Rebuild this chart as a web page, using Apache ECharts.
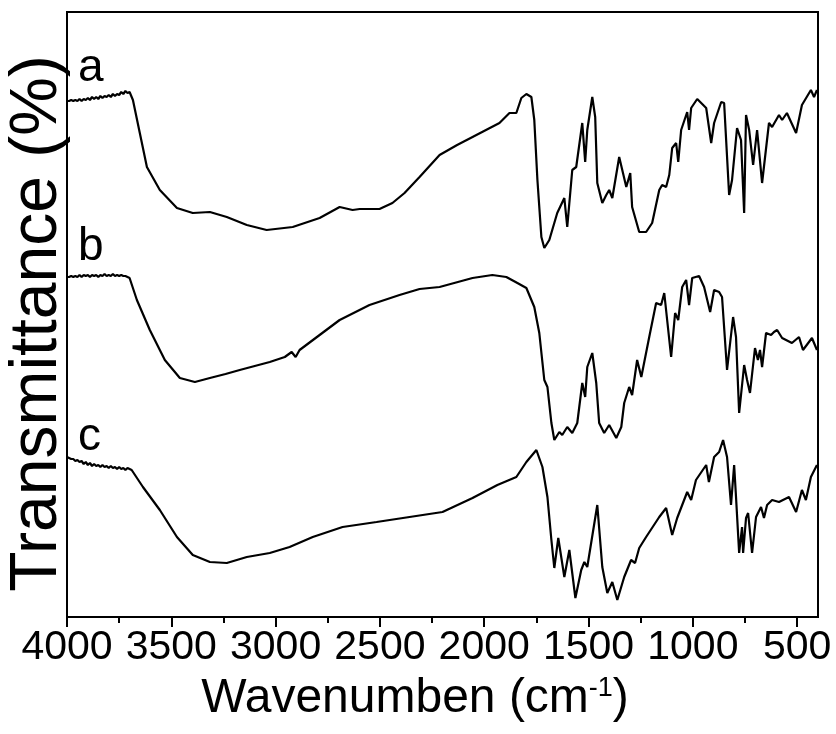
<!DOCTYPE html>
<html>
<head>
<meta charset="utf-8">
<script src="https://cdn.jsdelivr.net/npm/echarts@6/dist/echarts.min.js"></script>
<style>
  html, body { margin: 0; padding: 0; background: #fff; }
  #chart { width: 836px; height: 734px; }
</style>
</head>
<body>
<div id="chart"></div>
<script>
// wavenumber (cm-1) and transmittance (offset, a.u.) for the three spectra
const waveA = [4000,3990,3980,3970,3960,3950,3940,3930,3920,3910,3900,3890,3880,3870,3860,3850,3840,3830,3820,3810,3800,3790,3780,3770,3760,3750,3740,3730,3720,3710,3700,3684,3651,3617,3555,3473,3397,3315,3234,3138,3043,2918,2789,2693,2631,2597,2502,2440,2382,2310,2214,2130,2056,1927,1879,1846,1822,1798,1774,1760,1745,1726,1712,1688,1650,1616,1602,1578,1559,1530,1516,1506,1482,1468,1458,1434,1415,1401,1386,1353,1319,1300,1291,1257,1224,1195,1161,1147,1128,1113,1099,1080,1070,1056,1027,1018,1008,979,936,912,898,864,850,826,812,788,769,754,745,730,711,692,668,635,620,587,572,549,505,477,434,419,405]
const tA    = [516,516,517,516,517,516,518,516,518,517,519,517,520,518,520,518,521,519,521,520,522,520,523,521,523,522,525,523,526,524,525,517,484,450,427,409,404,405,400,392,387,390,399,410,407,408,408,414,424,440,462,472,480,494,504,504,519,523,520,497,437,380,369,377,404,419,390,447,450,494,455,487,520,500,434,414,422,427,419,460,430,444,410,385,385,394,427,432,430,442,469,474,455,487,505,487,509,518,509,474,494,515,514,422,437,489,477,404,502,487,452,487,434,494,490,502,497,504,484,512,527,520,527]

const waveB = [4000,3990,3980,3970,3960,3950,3940,3930,3920,3910,3900,3890,3880,3870,3860,3850,3840,3830,3820,3810,3800,3790,3780,3770,3760,3750,3740,3730,3720,3710,3700,3665,3603,3531,3459,3387,3315,3240,3172,3100,3028,2956,2923,2904,2885,2789,2693,2550,2406,2310,2214,2056,1961,1894,1841,1798,1760,1736,1712,1697,1678,1664,1640,1626,1602,1578,1554,1530,1516,1506,1482,1463,1449,1425,1401,1367,1343,1329,1305,1291,1267,1247,1209,1176,1152,1137,1104,1085,1070,1051,1032,1018,1003,970,946,917,898,874,860,836,807,793,778,754,740,726,702,688,678,668,649,625,611,596,572,525,491,472,429,405]
const tB    = [340,340,341,340,341,340,342,340,342,341,342,340,342,341,342,340,342,341,343,341,342,341,343,341,342,341,342,341,341,340,339,317,287,257,239,235,239,243,247,251,255,260,265,260,267,282,297,312,322,328,330,339,342,340,334,329,310,284,237,230,194,177,185,182,190,184,194,234,220,250,264,234,194,184,192,179,190,214,230,222,257,240,280,314,312,324,260,304,297,330,337,312,339,341,330,305,327,325,320,247,300,280,204,252,237,224,269,257,267,250,284,282,285,287,279,274,280,267,279,267]

const waveC = [4000,3990,3980,3970,3960,3950,3940,3930,3920,3910,3900,3890,3880,3870,3860,3850,3840,3830,3820,3810,3800,3790,3780,3770,3760,3750,3740,3730,3720,3710,3700,3690,3684,3636,3555,3473,3397,3315,3234,3138,3028,2933,2822,2679,2516,2358,2200,2056,1937,1846,1798,1750,1721,1697,1678,1664,1645,1616,1592,1563,1535,1520,1506,1458,1434,1410,1386,1362,1329,1296,1277,1257,1224,1161,1128,1099,1075,1027,1008,985,936,923,898,874,855,836,817,802,793,778,764,759,745,735,716,697,673,659,644,620,587,539,505,477,458,434,405]
const tC    = [160,159,158,158,156,157,155,156,153,155,152,154,151,153,151,152,150,152,150,151,149,151,149,150,148,150,148,149,147,149,148,147,147,130,107,80,62,55,54,60,64,70,80,90,95,100,105,119,132,140,155,167,150,120,77,49,79,40,67,19,47,55,50,112,50,24,35,17,40,57,54,69,80,100,109,82,99,125,117,137,152,135,160,165,177,160,112,152,120,64,90,64,99,104,64,100,110,99,112,117,115,120,105,127,117,140,152]

const majorTicks = [4000,3500,3000,2500,2000,1500,1000,500]
const minorTicks = [3750,3250,2750,2250,1750,1250,750]
const curveLabels = ['a','b','c']

const zip = (xs, ys) => xs.map((x, i) => [x, ys[i]])
const font = "'Liberation Sans', Arial, sans-serif"

const chart = echarts.init(document.getElementById('chart'))

const lineSeries = (name, xs, ys) => ({
  name: name,
  type: 'line',
  xAxisIndex: 0,
  showSymbol: false,
  smooth: false,
  lineStyle: { color: '#000', width: 2.2 },
  data: zip(xs, ys)
})

const option = {
  animation: false,
  backgroundColor: '#fff',
  grid: {
    left: 67, right: 18, top: 12, bottom: 117,
    containLabel: false,
    outerBoundsMode: 'none',
    show: true, borderColor: '#000', borderWidth: 2
  },
  xAxis: [
    {
      type: 'value',
      inverse: true,
      min: 400, max: 4000,
      position: 'bottom',
      axisLine: { show: true, lineStyle: { color: '#000', width: 2 } },
      axisTick: { show: true, length: 10, lineStyle: { color: '#000', width: 2 }, customValues: majorTicks },
      axisLabel: {
        show: true, customValues: majorTicks, color: '#000', fontSize: 41, fontFamily: font, margin: 10,
        formatter: v => String(v)
      },
      splitLine: { show: false },
      name: '{t|Wavenumben (cm}{s|-1}{t|)}',
      nameLocation: 'middle',
      nameGap: 58,
      nameTextStyle: {
        padding: [0, 55, 0, 0],
        rich: {
          t: { fontSize: 48, fontFamily: font, color: '#000', verticalAlign: 'bottom' },
          s: { fontSize: 27, fontFamily: font, color: '#000', verticalAlign: 'top' }
        }
      }
    },
    {
      type: 'value',
      inverse: true,
      min: 400, max: 4000,
      position: 'bottom',
      axisLine: { show: false },
      axisTick: { show: true, length: 6, lineStyle: { color: '#000', width: 2 }, customValues: minorTicks },
      axisLabel: { show: false },
      splitLine: { show: false }
    }
  ],
  yAxis: {
    type: 'value',
    min: 0, max: 605,
    axisLine: { show: true, lineStyle: { color: '#000', width: 2 } },
    axisTick: { show: false },
    axisLabel: { show: false },
    splitLine: { show: false },
    name: 'Transmittance (%)',
    nameLocation: 'middle',
    nameGap: -4,
    nameTextStyle: { fontSize: 66, fontFamily: font, color: '#000', padding: [0, 18, 0, 0] }
  },
  graphic: [
    { type: 'text', left: 78, top: 45, style: { text: curveLabels[0], font: '46px ' + font, fill: '#000' } },
    { type: 'text', left: 78, top: 224, style: { text: curveLabels[1], font: '46px ' + font, fill: '#000' } },
    { type: 'text', left: 78, top: 414, style: { text: curveLabels[2], font: '46px ' + font, fill: '#000' } }
  ],
  series: [
    lineSeries('a', waveA, tA),
    lineSeries('b', waveB, tB),
    lineSeries('c', waveC, tC)
  ]
}

chart.setOption(option, true)
</script>
</body>
</html>
